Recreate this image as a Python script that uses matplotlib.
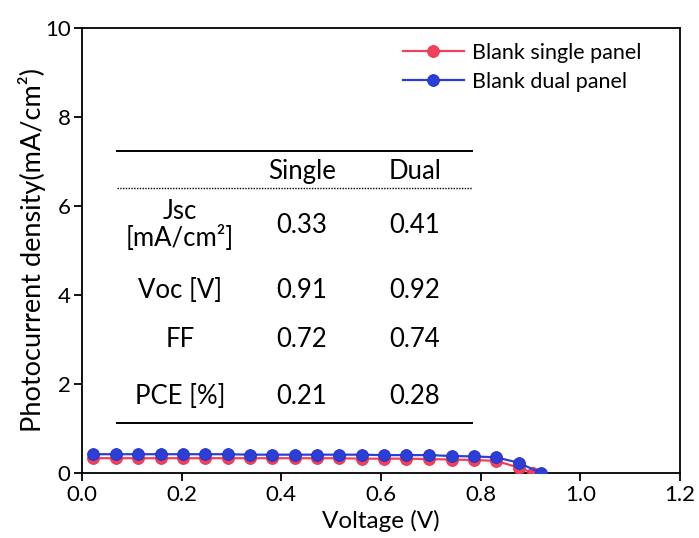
import matplotlib
matplotlib.use("Agg")
import matplotlib.pyplot as plt

plt.rcParams['font.family'] = ['Lato', 'DejaVu Sans']

# Data
v_dual = [0.023, 0.068, 0.113, 0.158, 0.203, 0.248, 0.293, 0.337, 0.382, 0.427,
          0.472, 0.516, 0.561, 0.606, 0.651, 0.697, 0.742, 0.786, 0.831, 0.876, 0.920]
j_dual = [0.42, 0.42, 0.42, 0.42, 0.42, 0.42, 0.42, 0.41, 0.41, 0.41,
          0.41, 0.41, 0.41, 0.40, 0.40, 0.40, 0.38, 0.37, 0.35, 0.23, 0.0]
v_single = [0.023, 0.068, 0.113, 0.158, 0.203, 0.248, 0.293, 0.337, 0.382, 0.427,
            0.472, 0.516, 0.561, 0.606, 0.651, 0.697, 0.742, 0.786, 0.831, 0.876, 0.905]
j_single = [0.33, 0.33, 0.33, 0.33, 0.33, 0.33, 0.33, 0.33, 0.33, 0.33,
            0.33, 0.33, 0.32, 0.32, 0.32, 0.31, 0.30, 0.29, 0.27, 0.12, 0.0]

series_labels = ["Blank single panel", "Blank dual panel"]
table_cols = ["Single", "Dual"]
table_rows = ["Jsc\n[mA/cm²]", "Voc [V]", "FF", "PCE [%]"]
single_vals = ["0.33", "0.91", "0.72", "0.21"]
dual_vals = ["0.41", "0.92", "0.74", "0.28"]

red = '#f2405c'
blue = '#2b3fd6'

fig = plt.figure(figsize=(6.99, 5.38), dpi=100)
ax = fig.add_axes([0.117, 0.121, 0.856, 0.827])

ax.plot(v_single, j_single, '-o', color=red, lw=1.6, ms=8.5,
        markeredgecolor='#e8304c', markeredgewidth=0.6, label=series_labels[0], zorder=3)
ax.plot(v_dual, j_dual, '-o', color=blue, lw=1.6, ms=8.5,
        markeredgecolor='#2030c0', markeredgewidth=0.6, label=series_labels[1], zorder=4)

ax.set_xlim(0, 1.2)
ax.set_ylim(0, 10)
ax.set_xticks([0.0, 0.2, 0.4, 0.6, 0.8, 1.0, 1.2])
ax.set_xticklabels(["0.0", "0.2", "0.4", "0.6", "0.8", "1.0", "1.2"])
ax.set_yticks([0, 2, 4, 6, 8, 10])
ax.tick_params(axis='both', which='both', direction='out', length=6, width=1.3,
               labelsize=16, top=False, right=False, colors='black', pad=3)
ax.tick_params(axis='y', pad=2)
for s in ax.spines.values():
    s.set_linewidth(1.3)
ax.set_xlabel("Voltage (V)", fontsize=17.5, labelpad=3)
ax.set_ylabel("Photocurrent density(mA/cm²)", fontsize=19.5, labelpad=-1)

leg = ax.legend(loc='upper right', frameon=False, fontsize=15.5,
                bbox_to_anchor=(0.968, 1.01), handlelength=2.8, handletextpad=0.4,
                labelspacing=0.4)

# Inset table
x0, x1 = 0.070, 0.783
ax.plot([x0, x1], [7.24, 7.24], color='black', lw=1.4, zorder=2)
ax.plot([x0, x1], [6.40, 6.40], color='black', lw=1.0, ls=(0, (1, 1)), zorder=2)
ax.plot([x0, x1], [1.12, 1.12], color='black', lw=1.4, zorder=2)

col_label_x = 0.197
col_x = [0.441, 0.668]
fs = 18.5
ax.text(col_x[0], 6.78, table_cols[0], ha='center', va='center', fontsize=fs)
ax.text(col_x[1], 6.78, table_cols[1], ha='center', va='center', fontsize=fs)
row_y = [5.57, 4.11, 2.99, 1.71]
for lab, sv, dv, y in zip(table_rows, single_vals, dual_vals, row_y):
    ax.text(col_label_x, y, lab, ha='center', va='center', fontsize=fs,
            linespacing=1.05)
    ax.text(col_x[0], y, sv, ha='center', va='center', fontsize=fs)
    ax.text(col_x[1], y, dv, ha='center', va='center', fontsize=fs)

fig.savefig("out.png", dpi=100)
